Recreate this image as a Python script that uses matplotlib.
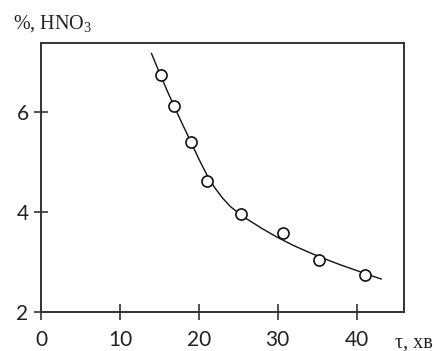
import matplotlib
matplotlib.use("Agg")
import matplotlib.pyplot as plt

# measured points: time (min) vs HNO3 (%)
t_points = [15.15, 16.84, 18.99, 21.05, 25.32, 30.67, 35.19, 41.1]
c_points = [6.73, 6.12, 5.39, 4.63, 3.97, 3.59, 3.05, 2.74]

# trend curve
t_curve = [14.0, 15.0, 16.0, 17.0, 18.0, 19.0, 20.0, 21.0, 22.0, 23.0, 24.0, 25.0,
           26.0, 28.0, 30.0, 32.0, 34.0, 36.0, 38.0, 40.0, 42.0, 43.1]
c_curve = [7.17, 6.79, 6.42, 6.07, 5.73, 5.40, 5.06, 4.75, 4.49, 4.28, 4.11, 3.98,
           3.87, 3.67, 3.49, 3.33, 3.19, 3.06, 2.94, 2.83, 2.72, 2.66]

x_ticks = [0, 10, 20, 30, 40]
y_ticks = [2, 4, 6]

plt.rcParams["mathtext.fontset"] = "custom"
plt.rcParams["mathtext.rm"] = "Liberation Serif"

TXT = "#222222"
AX = "#333333"

fig = plt.figure(figsize=(4.35, 3.51), dpi=100)
ax = fig.add_axes([0.0943, 0.1111, 0.8344, 0.7664])

ax.plot(t_curve, c_curve, color="#111111", lw=1.0, zorder=2)
ax.plot(t_points, c_points, ls="none", marker="o", ms=8, mfc="white",
        mec="#111111", mew=1.2, zorder=3)

ax.set_xlim(0, 46)
ax.set_ylim(2, 7.38)
ax.set_xticks(x_ticks)
ax.set_yticks(y_ticks)
for s in ax.spines.values():
  s.set_color(AX)
  s.set_linewidth(1.4)

ax.tick_params(axis="x", direction="inout", length=12, width=1.2, color=AX,
               pad=7, labelsize=15, labelcolor=TXT)
ax.tick_params(axis="y", direction="inout", length=10, width=1.2, color=AX,
               pad=4, labelsize=15, labelcolor=TXT)
for lab in ax.get_xticklabels() + ax.get_yticklabels():
  lab.set_family(["Lato", "DejaVu Sans"])

fig.text(13 / 435, 1 - 29 / 351, "%, HNO$_\\mathrm{3}$", family="Liberation Serif",
         fontsize=14.5, color=TXT, ha="left", va="baseline")
fig.text(433 / 435, 1 - 343 / 351, "τ, хв", family="Liberation Serif",
         fontsize=14.5, color=TXT, ha="right", va="center")

fig.savefig("out.png", dpi=100)
